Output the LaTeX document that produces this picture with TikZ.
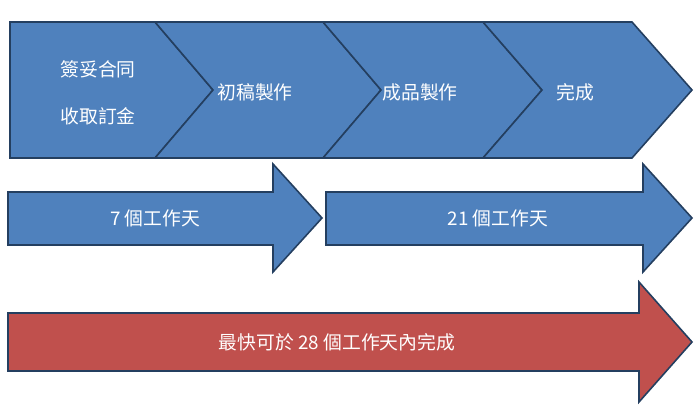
\documentclass[tikz,border=0pt]{standalone}
\usepackage{fontspec}
\newfontfamily\cjkfont{Noto Sans CJK TC}
\definecolor{blueFill}{HTML}{4F81BD}
\definecolor{redFill}{HTML}{C0504D}
\definecolor{edgeCol}{HTML}{243F60}
\begin{document}
\begin{tikzpicture}[x=1pt,y=-1pt,
  shapebox/.style={line width=1.6pt, draw=edgeCol, line join=miter},
  bluebox/.style={shapebox, fill=blueFill},
  redbox/.style={shapebox, fill=redFill},
  lbl/.style={text=white, font=\cjkfont\fontsize{18.8}{22}\selectfont, inner sep=0pt}]
\useasboundingbox (0,0) rectangle (700,411);
% top chevrons
\path[bluebox] (10,22) -- (155,22) -- (213,90) -- (155,158) -- (10,158) -- cycle;
\path[bluebox] (155,22) -- (323,22) -- (381,90) -- (323,158) -- (155,158) -- (213,90) -- cycle;
\path[bluebox] (323,22) -- (483,22) -- (542,90) -- (483,158) -- (323,158) -- (381,90) -- cycle;
\path[bluebox] (483,22) -- (632,22) -- (692,90) -- (632,158) -- (483,158) -- (542,90) -- cycle;
\node[lbl] (t1a) at (98,69) {簽妥合同};
\node[lbl] (t1b) at (98,116) {收取訂金};
\node[lbl] (t2) at (255,92) {初稿製作};
\node[lbl] (t3) at (420,92) {成品製作};
\node[lbl] (t4) at (575,92) {完成};
% middle arrows
\path[bluebox] (8,192) -- (273,192) -- (273,164) -- (322,218) -- (273,272) -- (273,245) -- (8,245) -- cycle;
\path[bluebox] (326,192) -- (643,192) -- (643,164) -- (692,218) -- (643,272) -- (643,245) -- (326,245) -- cycle;
\node[lbl] (m1) at (155,218) {7 個工作天};
\node[lbl] (m2) at (498,218) {21 個工作天};
% bottom arrow
\path[redbox] (8,313) -- (639,313) -- (639,282) -- (692,342) -- (639,402) -- (639,371) -- (8,371) -- cycle;
\node[lbl] (b1) at (337,342) {最快可於 28 個工作天內完成};
\end{tikzpicture}
\end{document}
